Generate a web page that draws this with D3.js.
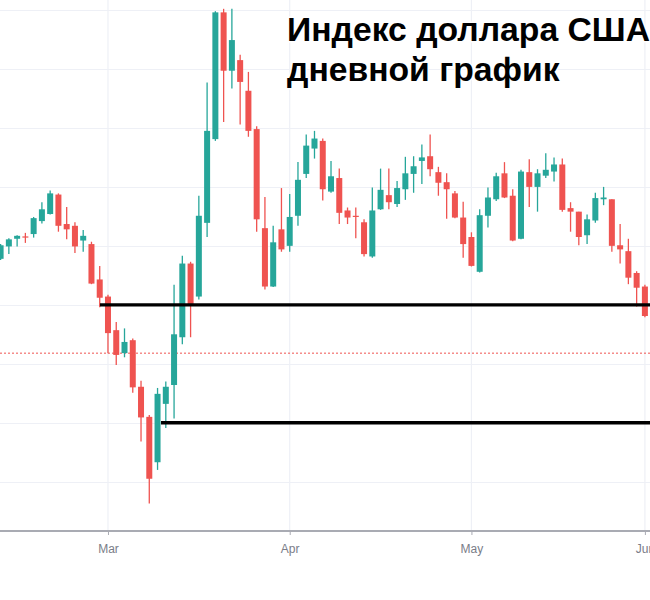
<!DOCTYPE html>
<html>
<head>
<meta charset="utf-8">
<script src="https://cdn.jsdelivr.net/npm/d3@7"></script>
<style>
html,body{margin:0;padding:0;background:#fff;}
svg{display:block;}
</style>
</head>
<body>
<svg id="chart" width="650" height="600"></svg>
<script>
// ---- data (US Dollar Index, daily, 2020) ----
const dates = [
"2020-02-12","2020-02-13","2020-02-14","2020-02-17","2020-02-18","2020-02-19","2020-02-20","2020-02-21","2020-02-24","2020-02-25","2020-02-26","2020-02-27","2020-02-28",
"2020-03-02","2020-03-03","2020-03-04","2020-03-05","2020-03-06","2020-03-09","2020-03-10","2020-03-11","2020-03-12","2020-03-13","2020-03-16","2020-03-17","2020-03-18","2020-03-19","2020-03-20","2020-03-23","2020-03-24","2020-03-25","2020-03-26","2020-03-27","2020-03-30","2020-03-31",
"2020-04-01","2020-04-02","2020-04-03","2020-04-06","2020-04-07","2020-04-08","2020-04-09","2020-04-10","2020-04-13","2020-04-14","2020-04-15","2020-04-16","2020-04-17","2020-04-20","2020-04-21","2020-04-22","2020-04-23","2020-04-24","2020-04-27","2020-04-28","2020-04-29","2020-04-30",
"2020-05-01","2020-05-04","2020-05-05","2020-05-06","2020-05-07","2020-05-08","2020-05-11","2020-05-12","2020-05-13","2020-05-14","2020-05-15","2020-05-18","2020-05-19","2020-05-20","2020-05-21","2020-05-22","2020-05-25","2020-05-26","2020-05-27","2020-05-28","2020-05-29",
"2020-06-01"];

const open = [98.78,98.99,99.12,99.16,99.20,99.42,99.54,99.87,99.37,99.34,99.09,99.03,98.43,
98.14,97.57,97.18,97.40,96.61,96.10,95.33,96.32,96.64,97.45,98.70,98.14,99.39,100.81,102.96,101.97,102.15,101.63,100.98,99.30,98.31,99.28,
99.00,99.51,100.22,100.65,100.78,99.92,100.15,99.60,99.51,99.40,98.82,99.62,99.86,99.71,99.96,100.22,100.44,100.52,100.25,100.08,99.89,99.48,
99.15,98.56,99.51,99.79,100.23,99.85,99.12,100.25,100.00,100.19,100.26,100.38,99.64,99.58,99.18,99.43,99.79,99.79,99.01,98.91,98.54,
98.31];
const high = [99.03,99.13,99.18,99.22,99.49,99.74,99.94,99.89,99.66,99.40,99.27,99.07,98.66,
98.17,97.71,97.60,97.43,96.71,96.13,96.59,96.70,98.34,98.83,98.73,99.85,101.77,102.98,103.02,103.02,102.24,101.95,101.03,99.83,99.34,99.98,
99.88,100.42,100.89,100.95,100.82,100.44,100.31,99.65,99.65,99.45,99.99,100.31,100.31,100.10,100.51,100.52,100.72,100.89,100.34,100.23,99.93,99.75,
99.23,99.62,99.99,100.24,100.42,99.96,100.29,100.47,100.30,100.57,100.50,100.48,99.74,99.58,99.53,99.90,100.00,99.79,99.37,99.12,98.57,
98.34];
const low = [98.76,98.86,98.99,99.05,99.14,99.38,99.53,99.24,99.11,98.88,98.90,98.35,97.96,
97.18,96.98,97.11,96.51,95.68,94.63,95.20,95.91,96.07,97.33,97.45,98.09,99.15,100.78,101.10,101.67,101.06,100.85,99.24,98.26,98.30,98.90,
98.90,99.34,100.15,100.48,99.77,99.90,99.37,99.37,99.13,98.82,98.80,99.61,99.62,99.66,99.78,99.90,100.05,100.18,99.85,99.46,99.47,98.80,
98.65,98.55,99.31,99.76,99.81,99.08,99.11,99.66,99.58,100.15,100.09,99.58,99.24,99.01,99.03,99.39,99.69,98.90,98.70,98.35,97.97,
97.79];
const close = [99.01,99.11,99.17,99.15,99.47,99.62,99.89,99.34,99.28,98.99,99.17,98.36,98.12,
97.52,97.15,97.37,96.60,96.09,95.05,96.49,96.61,97.50,98.70,98.01,99.51,100.95,102.96,101.97,102.49,101.78,100.95,99.45,98.31,99.06,98.94,
99.49,100.12,100.70,100.82,99.96,100.18,99.56,99.48,99.50,98.86,99.60,99.95,99.74,99.98,100.23,100.35,100.50,100.30,100.07,99.96,99.48,99.03,
98.66,99.52,99.82,100.18,99.82,99.09,100.26,100.00,100.23,100.29,100.38,99.61,99.58,99.15,99.45,99.81,99.82,99.00,98.94,98.46,98.29,
97.81];

const gridValues = [95, 96, 97, 98, 99, 100, 101, 102, 103];
const monthTicks = ["2020-03-02", "2020-04-01", "2020-05-01", "2020-06-01"];
const monthLabels = ["Mar", "Apr", "May", "Jun"];

const levelValues = [98.0, 96.0];
const levelStart = [12.03, 19.42];   // position along the trading-day sequence
const priceLine = 97.18;

const titleLines = ["Индекс доллара США", "дневной график"];

// ---- drawing ----
const W = 650, H = 600;
const axisY = 531;
const svg = d3.select("#chart");

const x = d3.scaleLinear().domain([0, dates.length - 1]).range([0.6, 644.9]);
const y = d3.scaleLinear().domain([95, 103]).range([481.7, 10]);
const idx = d => dates.indexOf(d);

const data = dates.map((d, i) => ({ d, i, o: open[i], h: high[i], l: low[i], c: close[i] }));

// horizontal grid
svg.append("g").selectAll("line").data(gridValues).join("line")
  .attr("x1", 0).attr("x2", W)
  .attr("y1", v => Math.round(y(v)) + 0.5).attr("y2", v => Math.round(y(v)) + 0.5)
  .attr("stroke", "#eef0f6").attr("stroke-width", 1.2);

// vertical grid at month starts
svg.append("g").selectAll("line").data(monthTicks).join("line")
  .attr("x1", d => x(idx(d))).attr("x2", d => x(idx(d)))
  .attr("y1", 0).attr("y2", axisY)
  .attr("stroke", "#eef0f6").attr("stroke-width", 1.2);

// price line (dotted red)
svg.append("line")
  .attr("x1", 0).attr("x2", W)
  .attr("y1", y(priceLine)).attr("y2", y(priceLine))
  .attr("stroke", "#ef5350").attr("stroke-width", 1)
  .attr("stroke-dasharray", "2,2");

// candles
const green = "#26a69a", red = "#ef5350";
const col = d => d.c >= d.o ? green : red;
const bw = 6;
const g = svg.append("g");
g.selectAll("line.wick").data(data).join("line").attr("class", "wick")
  .attr("x1", d => x(d.i)).attr("x2", d => x(d.i))
  .attr("y1", d => y(d.h)).attr("y2", d => y(d.l))
  .attr("stroke", col).attr("stroke-width", 1.3);
g.selectAll("rect").data(data).join("rect")
  .attr("x", d => x(d.i) - bw / 2)
  .attr("width", bw)
  .attr("y", d => y(Math.max(d.o, d.c)))
  .attr("height", d => Math.max(1.2, Math.abs(y(d.o) - y(d.c))))
  .attr("fill", col);

// support/resistance levels
svg.append("g").selectAll("line").data(levelValues).join("line")
  .attr("x1", (v, i) => x(levelStart[i])).attr("x2", W)
  .attr("y1", v => y(v)).attr("y2", v => y(v))
  .attr("stroke", "#000").attr("stroke-width", 3.3);

// x axis
const xAxis = d3.axisBottom(x)
  .tickValues(monthTicks.map(idx))
  .tickFormat((v, i) => monthLabels[i])
  .tickSize(4).tickPadding(9);
const ax = svg.append("g").attr("transform", `translate(0,${axisY})`).call(xAxis);
ax.select(".domain").attr("stroke", "#a9abb3").attr("stroke-width", 2).attr("d", `M0,0H${W}`);
ax.selectAll(".tick line").attr("stroke", "#a9abb3");
ax.selectAll(".tick text").attr("fill", "#7a7d88")
  .style("font-family", "'Liberation Sans', Arial, sans-serif").style("font-size", "12px");

// title
svg.append("g").selectAll("text").data(titleLines).join("text")
  .attr("x", 287).attr("y", (t, i) => 41 + i * 40)
  .text(t => t)
  .style("font-family", "'Liberation Sans', Arial, sans-serif")
  .style("font-weight", "bold").style("font-size", "33.7px")
  .attr("fill", "#000")
  .attr("stroke", "#fff").attr("stroke-width", 3).style("paint-order", "stroke");
</script>
</body>
</html>
